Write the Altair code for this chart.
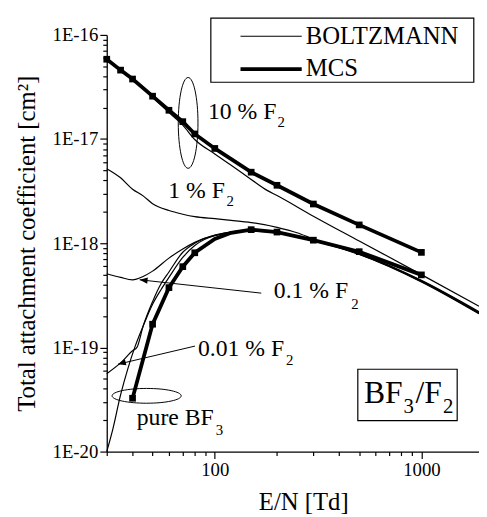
import altair as alt
import pandas as pd

FONT = "Liberation Serif"

# ---------------- curve data (E/N in Td, coefficient in cm^2) ----------------
MCS_10_E = [30, 35, 40, 50, 60, 70, 80, 100, 150, 200, 300, 500, 1000]
MCS_10_K = [5.84e-17, 4.59e-17, 3.77e-17, 2.58e-17, 1.89e-17, 1.47e-17, 1.12e-17,
            8.13e-18, 4.81e-18, 3.6e-18, 2.38e-18, 1.5e-18, 8.17e-19]

MCS_PURE_E = [40, 50, 60, 70, 80, 100, 120, 150, 200, 300, 500, 1000]
MCS_PURE_K = [3.25e-20, 1.67e-19, 3.75e-19, 5.96e-19, 8.1e-19, 1.1e-18, 1.26e-18,
              1.35e-18, 1.28e-18, 1.07e-18, 8.3e-19, 4.97e-19]
MCS_PURE_MARK = [True, True, True, True, True, False, False, True, True, True, True, True]

B_10_E = [30, 35, 40, 50, 60, 70, 80, 100, 120, 150, 180, 200, 300, 500, 1000, 1900]
B_10_K = [5.84e-17, 4.55e-17, 3.72e-17, 2.52e-17, 1.8e-17, 1.36e-17, 9.9e-18, 7.2e-18,
          5.6e-18, 4.1e-18, 3.2e-18, 2.87e-18, 1.82e-18, 1.05e-18, 5.0e-19, 2.49e-19]

B_1_E = [30, 35, 40, 45, 50, 60, 70, 80, 100, 120, 150, 200, 250, 300, 500, 1000, 1900]
B_1_K = [5.2e-18, 4.25e-18, 3.3e-18, 2.85e-18, 2.4e-18, 2.06e-18, 1.9e-18, 1.8e-18,
         1.72e-18, 1.66e-18, 1.58e-18, 1.42e-18, 1.26e-18, 1.1e-18, 8.0e-19, 4.4e-19, 2.2e-19]

B_01_E = [30, 35, 40, 45, 50, 60, 70, 80, 100, 150, 200, 300, 500, 1000, 1900]
B_01_K = [5.1e-19, 4.7e-19, 4.45e-19, 4.8e-19, 5.4e-19, 7.2e-19, 8.8e-19, 1.02e-18,
          1.2e-18, 1.33e-18, 1.27e-18, 1.08e-18, 7.9e-19, 4.35e-19, 2.15e-19]

B_001_E = [30, 35, 40, 42, 45, 50, 55, 60, 70, 80, 100, 150, 200, 300, 500, 1000, 1900]
B_001_K = [5.6e-20, 7.1e-20, 9.3e-20, 1.0e-19, 1.6e-19, 2.75e-19, 4.1e-19, 5.3e-19,
           8.2e-19, 1.0e-18, 1.19e-18, 1.32e-18, 1.27e-18, 1.07e-18, 7.85e-19, 4.3e-19, 2.12e-19]

B_PURE_E = [30, 32, 35, 38, 41, 45, 50, 55, 60, 70, 80, 100, 150, 200, 300, 500, 1000, 1900]
B_PURE_K = [1.0e-20, 1.6e-20, 3.5e-20, 6.3e-20, 1.0e-19, 1.6e-19, 2.6e-19, 3.6e-19, 4.7e-19,
            7.3e-19, 9.5e-19, 1.18e-18, 1.31e-18, 1.26e-18, 1.06e-18, 7.8e-19, 4.25e-19, 2.1e-19]

# axis ticks
X_MAJOR = [100, 1000]
X_MINOR = [30, 40, 50, 60, 70, 80, 90, 200, 300, 400, 500, 600, 700, 800, 900]
Y_MAJOR = [1e-20, 1e-19, 1e-18, 1e-17, 1e-16]
Y_MINOR = [m * 10.0 ** p for p in range(-20, -16) for m in range(2, 10)]

# ---------------- annotations (placed in data coordinates) ----------------
TXT = ["10 % F", "2", "1 % F", "2", "0.1 % F", "2", "0.01 % F", "2", "pure BF", "3",
       "BF", "3", "/F", "2", "BOLTZMANN", "MCS"]
TXT_E = [92.6, 201, 59.6, 114, 193, 457, 82.9, 221, 41.9, 101,
         527.8, 820, 937, 1271, 275.6, 275.6]
TXT_K = [1.56e-17, 1.31e-17, 2.73e-18, 2.3e-18, 3.01e-19, 2.32e-19, 8.36e-20, 6.8e-20,
         1.8e-20, 1.45e-20, 2.91e-20, 2.34e-20, 2.91e-20, 2.34e-20, 8.09e-17, 4.06e-17]
TXT_FS = [24, 15, 24, 15, 24, 15, 24, 15, 24, 15, 32, 21, 32, 21, 25, 25]

ARROW_E1 = [167.9, 80.2]
ARROW_K1 = [3.32e-19, 1.03e-19]
ARROW_E2 = [43.3, 34.0]
ARROW_K2 = [4.46e-19, 6.9e-20]
ARROW_ANG = [6, 346]

BOX_E1 = [95.7, 492.3]
BOX_E2 = [1793, 1490]
BOX_K1 = [3.51e-17, 1.98e-20]
BOX_K2 = [1.45e-16, 6.17e-20]

LEG_E1, LEG_E2, LEG_EM = 133.2, 263.5, 185.4
LEG_K_B, LEG_K_M = 9.71e-17, 4.69e-17

ELL10_E, ELL10_K = 74.3, 1.43e-17
ELLP_E, ELLP_K = 46.8, 3.43e-20

# ---------------- frames ----------------
def frame(name, E, K):
    return pd.DataFrame({"E": E, "k": K, "s": name})

boltz = pd.concat([
    frame("b10", B_10_E, B_10_K), frame("b1", B_1_E, B_1_K),
    frame("b01", B_01_E, B_01_K), frame("b001", B_001_E, B_001_K),
    frame("bpure", B_PURE_E, B_PURE_K)])
mcs = pd.concat([frame("m10", MCS_10_E, MCS_10_K), frame("mpure", MCS_PURE_E, MCS_PURE_K)])
marks = pd.concat([
    frame("m10", MCS_10_E, MCS_10_K),
    frame("mpure", [e for e, f in zip(MCS_PURE_E, MCS_PURE_MARK) if f],
          [k for k, f in zip(MCS_PURE_K, MCS_PURE_MARK) if f]),
    frame("leg", [LEG_EM], [LEG_K_M])])
texts = pd.DataFrame({"E": TXT_E, "k": TXT_K, "t": TXT, "fs": TXT_FS})
arrows = pd.DataFrame({"E": ARROW_E1, "k": ARROW_K1, "E2": ARROW_E2, "k2": ARROW_K2,
                       "a": ARROW_ANG})
boxes = pd.DataFrame({"E": BOX_E1, "E2": BOX_E2, "k": BOX_K1, "k2": BOX_K2})
leg_thin = pd.DataFrame({"E": [LEG_E1], "E2": [LEG_E2], "k": [LEG_K_B], "k2": [LEG_K_B]})
leg_thick = pd.DataFrame({"E": [LEG_E1], "E2": [LEG_E2], "k": [LEG_K_M], "k2": [LEG_K_M]})
ell10 = pd.DataFrame({"E": [ELL10_E], "k": [ELL10_K]})
ellp = pd.DataFrame({"E": [ELLP_E], "k": [ELLP_K]})

# ---------------- scales / axes ----------------
xs = alt.Scale(type="log", domain=[30, 1900], nice=False)
ys = alt.Scale(type="log", domain=[1e-20, 1e-16], nice=False)

x_axis = alt.Axis(
    orient="bottom", values=X_MAJOR, labelExpr="'' + round(datum.value)",
    tickSize=7, labelFontSize=19, labelPadding=2, labelOverlap=False, labelFlush=False,
    title="E/N [Td]", titleFontSize=25, titleX=199, titleY=59,
    titleBaseline="alphabetic", titleAlign="center")
y_axis = alt.Axis(
    orient="left", values=Y_MAJOR, labelExpr="'1E-' + round(-log(datum.value)/LN10)",
    tickSize=7, labelFontSize=19, labelPadding=2, labelOverlap=False, labelFlush=False,
    title="Total attachment coefficient [cm²]", titleFontSize=25, titleX=-73, titleY=211,
    titleAngle=270, titleBaseline="alphabetic", titleAlign="center")
x_minor = alt.Axis(orient="bottom", values=X_MINOR, tickSize=4, labels=False,
                   domain=False, title=None)
y_minor = alt.Axis(orient="left", values=Y_MINOR, tickSize=4, labels=False,
                   domain=False, title=None)


def enc():
    return dict(x=alt.X("E:Q", scale=xs, axis=None), y=alt.Y("k:Q", scale=ys, axis=None))


b_layer = alt.Chart(boltz).mark_line(color="black", strokeWidth=1.2,
                                     interpolate="monotone").encode(
    x=alt.X("E:Q", scale=xs, axis=x_axis), y=alt.Y("k:Q", scale=ys, axis=y_axis),
    detail="s:N", order="E:Q")
minor_layer = alt.Chart(boltz).mark_point(opacity=0).encode(
    x=alt.X("E:Q", scale=xs, axis=x_minor), y=alt.Y("k:Q", scale=ys, axis=y_minor))
m_layer = alt.Chart(mcs).mark_line(color="black", strokeWidth=3.8).encode(
    detail="s:N", order="E:Q", **enc())
p_layer = alt.Chart(marks).mark_square(color="black", size=46, opacity=1).encode(**enc())

box_layer = alt.Chart(boxes).mark_rect(fill="white", stroke="black", strokeWidth=1.2).encode(
    x2="E2:Q", y2="k2:Q", **enc())
arrow_lines = alt.Chart(arrows).mark_rule(color="black", strokeWidth=1).encode(
    x2="E2:Q", y2="k2:Q", **enc())
arrow_heads = alt.Chart(arrows).mark_point(
    shape="M 0 0 L 2 -0.8 L 2 0.8 Z", filled=True, color="black", size=64, opacity=1).encode(
    x=alt.X("E2:Q", scale=xs, axis=None), y=alt.Y("k2:Q", scale=ys, axis=None),
    angle=alt.Angle("a:Q", scale=None))
leg1 = alt.Chart(leg_thin).mark_rule(color="black", strokeWidth=1.2).encode(
    x2="E2:Q", y2="k2:Q", **enc())
leg2 = alt.Chart(leg_thick).mark_rule(color="black", strokeWidth=3.8).encode(
    x2="E2:Q", y2="k2:Q", **enc())

ELL_TALL = ("M 0 -1 C 0.12 -1 0.217 -0.552 0.217 0 C 0.217 0.552 0.12 1 0 1 "
            "C -0.12 1 -0.217 0.552 -0.217 0 C -0.217 -0.552 -0.12 -1 0 -1 Z")
ELL_WIDE = ("M -1 0 C -1 -0.118 -0.552 -0.214 0 -0.214 C 0.552 -0.214 1 -0.118 1 0 "
            "C 1 0.118 0.552 0.214 0 0.214 C -0.552 0.214 -1 0.118 -1 0 Z")
e1 = alt.Chart(ell10).mark_point(shape=ELL_TALL, filled=False, color="black",
                                 strokeWidth=1, size=8464, opacity=1).encode(**enc())
e2 = alt.Chart(ellp).mark_point(shape=ELL_WIDE, filled=False, color="black",
                                strokeWidth=1, size=4900, opacity=1).encode(**enc())

t_layer = alt.Chart(texts).mark_text(align="left", baseline="alphabetic", font=FONT,
                                     color="black").encode(
    text="t:N", size=alt.Size("fs:Q", scale=None, legend=None), **enc())

chart = alt.layer(
    b_layer, minor_layer, m_layer, p_layer, box_layer, arrow_lines, arrow_heads,
    leg1, leg2, e1, e2, t_layer,
).resolve_axis(x="independent", y="independent").properties(
    width=377, height=422,
    padding={"left": 100, "top": 24, "right": 0, "bottom": 63},
    autosize=alt.AutoSizeParams(type="none"),
).configure_view(stroke=None).configure_axis(
    domainColor="black", domainWidth=1.3, tickColor="black", tickWidth=1.2,
    labelColor="black", titleColor="black", labelFont=FONT, titleFont=FONT,
    titleFontWeight="normal", grid=False,
)

chart.save("out.html", embed_options={"renderer": "svg", "actions": False})
